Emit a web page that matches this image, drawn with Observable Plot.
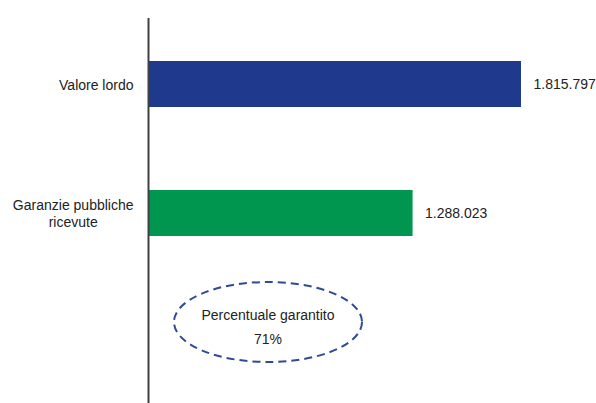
<!DOCTYPE html>
<html>
<head>
<meta charset="utf-8">
<script src="https://cdn.jsdelivr.net/npm/d3@7"></script>
<script src="https://cdn.jsdelivr.net/npm/@observablehq/plot@0.6"></script>
<style>
  html, body { margin: 0; padding: 0; background: #fff; }
</style>
</head>
<body>
<div id="chart"></div>
<script>
const categories = ["Valore lordo", "Garanzie pubbliche\nricevute"];
const values = [1815797, 1288023];
const valueLabels = ["1.815.797", "1.288.023"];
const barColors = ["#1f3a8c", "#00964f"];
const noteSlot = "nota";
const noteLines = ["Percentuale garantito", "71%"];

const data = categories.map((c, i) => ({category: c, value: values[i], label: valueLabels[i], color: barColors[i]}));

function noteMark(index, scales, values_, dimensions) {
  const x = scales.x, y = scales.y;
  const bw = y.bandwidth ? y.bandwidth() : 46;
  const cx = x(0) + 120;
  const cy = y(noteSlot) + bw / 2 - 20;
  const g = d3.create("svg:g");
  g.append("ellipse")
    .attr("cx", cx).attr("cy", cy).attr("rx", 94).attr("ry", 40)
    .attr("fill", "none").attr("stroke", "#2f4a97")
    .attr("stroke-width", 2).attr("stroke-dasharray", "8,5");
  g.append("text").attr("x", cx).attr("y", cy - 7)
    .attr("text-anchor", "middle").attr("dominant-baseline", "central")
    .attr("font-size", 14).attr("fill", "#222").text(noteLines[0]);
  g.append("text").attr("x", cx).attr("y", cy + 17)
    .attr("text-anchor", "middle").attr("dominant-baseline", "central")
    .attr("font-size", 14).attr("fill", "#222").text(noteLines[1]);
  return g.node();
}

const chart = Plot.plot({
  width: 596,
  height: 403,
  marginLeft: 148,
  marginRight: 75,
  marginTop: 18,
  marginBottom: 0,
  style: {fontFamily: "'Liberation Sans', Arial, sans-serif", fontSize: "14px", color: "#222", background: "white"},
  x: {domain: [0, values[0]], range: [148, 521], axis: null},
  y: {domain: [...categories, noteSlot], range: [-22, 448], padding: 0.6434, label: null},
  color: {type: "identity"},
  marks: [
    Plot.barX(data, {x: "value", y: "category", fill: "color"}),
    Plot.text(data, {x: "value", y: "category", text: "label", textAnchor: "start", dx: 12, fontSize: 14, fill: "#222"}),
    Plot.axisY(categories, {tickSize: 0, tickPadding: 15, fontSize: 14, lineHeight: 1.2, fill: "#222", label: null}),
    Plot.ruleX([0], {stroke: "#404040", strokeWidth: 2}),
    noteMark
  ]
});

document.getElementById("chart").append(chart);

document.querySelectorAll('g[aria-label="y-axis tick label"] text').forEach(t => {
  const sp = t.querySelectorAll("tspan");
  if (sp.length > 1) {
    const w = Math.max(...[...sp].map(s => s.getComputedTextLength()));
    t.setAttribute("text-anchor", "middle");
    t.setAttribute("transform", (t.getAttribute("transform") || "") + ` translate(${-w / 2},0)`);
  }
});
</script>
</body>
</html>
